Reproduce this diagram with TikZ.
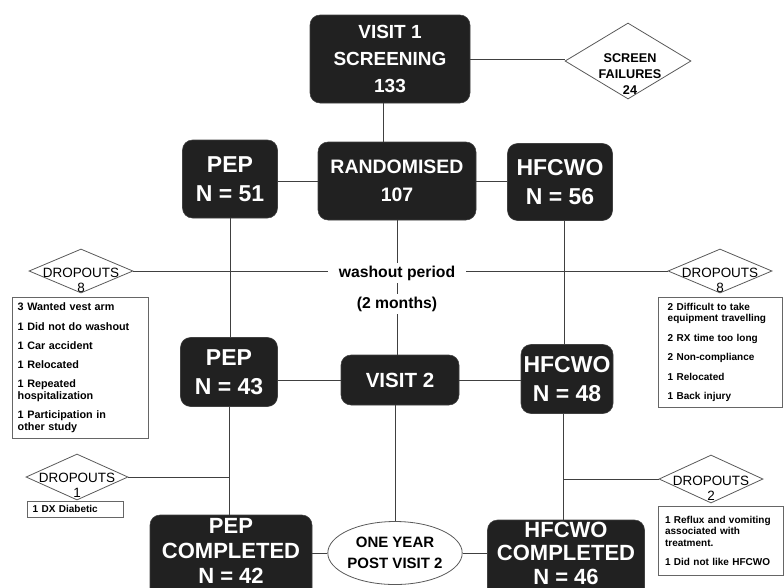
\documentclass[tikz,border=0pt]{standalone}
\usepackage{fontspec}
\setmainfont{Liberation Sans}
\usetikzlibrary{shapes.geometric,calc}
\begin{document}
\begin{tikzpicture}[x=0.75pt,y=-0.75pt,
  box/.style={rectangle, rounded corners=7.5pt, fill=black!87, draw=black!75, text=white, align=center, inner sep=0pt, font=\bfseries},
  btext/.style={text=white, align=center, inner sep=0pt},
  dia/.style={diamond, draw=black!65, line width=0.6pt, inner sep=0pt},
  dtext/.style={align=center, inner sep=0pt, font=\fontsize{10.1pt}{11.25pt}\selectfont},
  listbox/.style={rectangle, draw=black!60, line width=0.6pt, align=left, inner ysep=0pt, anchor=north west, font=\fontsize{7.5pt}{8.6pt}\selectfont\bfseries},
  conn/.style={draw=black!75, line width=0.7pt},
  wtext/.style={fill=white, inner xsep=8pt, inner ysep=2pt, font=\fontsize{11.8pt}{13pt}\selectfont\bfseries},
]
\useasboundingbox (0,0) rectangle (784,587);

% main boxes
\node[box, minimum width=160*0.75pt, minimum height=88*0.75pt, font=\fontsize{14.25pt}{20.25pt}\selectfont\bfseries] (v1) at (390,59) {VISIT 1\\SCREENING\\133};
\node[box, minimum width=95*0.75pt, minimum height=78*0.75pt, font=\fontsize{17.25pt}{21.75pt}\selectfont\bfseries] (pep51) at (230,179) {PEP\\N = 51};
\node[box, minimum width=158*0.75pt, minimum height=78*0.75pt, font=\fontsize{14.6pt}{21pt}\selectfont\bfseries] (rand) at (397,181) {RANDOMISED\\107};
\node[box, minimum width=105*0.75pt, minimum height=77*0.75pt, font=\fontsize{17.25pt}{21.75pt}\selectfont\bfseries] (hf56) at (560,182) {HFCWO\\N = 56};
\node[box, minimum width=97*0.75pt, minimum height=69*0.75pt, font=\fontsize{17.25pt}{21.75pt}\selectfont\bfseries] (pep43) at (229,372) {PEP\\N = 43};
\node[box, minimum width=118*0.75pt, minimum height=50*0.75pt, font=\fontsize{15.4pt}{18pt}\selectfont\bfseries] (v2) at (400,380) {VISIT 2};
\node[box, minimum width=92*0.75pt, minimum height=69*0.75pt, font=\fontsize{17.25pt}{21.75pt}\selectfont\bfseries] (hf48) at (567,379) {HFCWO\\N = 48};
\node[box, minimum width=162*0.75pt, minimum height=85*0.75pt] (pepc) at (231,557.5) {};
\node[btext, font=\fontsize{16.5pt}{18.75pt}\selectfont\bfseries] (pepct) at (231,551) {PEP\\COMPLETED\\N = 42};
\node[box, minimum width=157*0.75pt, minimum height=85*0.75pt] (hfc) at (566,562.5) {};
\node[btext, font=\fontsize{16.5pt}{17.6pt}\selectfont\bfseries] (hfct) at (566,553) {HFCWO\\COMPLETED\\N = 46};
\node[ellipse, draw=black!65, line width=0.6pt, minimum width=126*0.75pt, minimum height=63*0.75pt, inner sep=0pt, align=center, font=\fontsize{11.25pt}{15.75pt}\selectfont\bfseries] (ell) at (395,553) {ONE YEAR\\POST VISIT 2};

% diamonds
\node[dia, minimum width=126*0.75pt, minimum height=76*0.75pt] (sf) at (628,61) {};
\node[align=center, inner sep=0pt, font=\fontsize{9.5pt}{12pt}\selectfont\bfseries] (sft) at (630,74) {SCREEN\\FAILURES\\24};
\node[dia, minimum width=104*0.75pt, minimum height=44*0.75pt] (d8l) at (81,271) {};
\node[dtext] (d8lt) at (81,280.5) {DROPOUTS\\8};
\node[dia, minimum width=104*0.75pt, minimum height=44*0.75pt] (d8r) at (720,271) {};
\node[dtext] (d8rt) at (720,280) {DROPOUTS\\8};
\node[dia, minimum width=102*0.75pt, minimum height=46*0.75pt] (d1l) at (77,477) {};
\node[dtext] (d1lt) at (77,485.5) {DROPOUTS\\1};
\node[dia, minimum width=104*0.75pt, minimum height=48*0.75pt] (d2r) at (711,479) {};
\node[dtext] (d2rt) at (711,488) {DROPOUTS\\2};

% list boxes
\node[listbox, inner xsep=4pt, text width=94pt, minimum height=141*0.75pt, font=\fontsize{8.1pt}{8.8pt}\selectfont\bfseries] (lb) at (12,297)
 {3 Wanted vest arm\\[5.6pt]1 Did not do washout\\[5.6pt]1 Car accident\\[5.6pt]1 Relocated\\[5.6pt]1 Repeated\\hospitalization\\[5.6pt]1 Participation in\\other study};
\node[listbox, inner xsep=7pt, text width=79pt, minimum height=110*0.75pt] (rb) at (658,297)
 {2 Difficult to take\\equipment travelling\\[6pt]2 RX time too long\\[6pt]2 Non-compliance\\[6pt]1 Relocated\\[6pt]1 Back injury};
\node[listbox, inner xsep=4pt, text width=64pt, minimum height=16*0.75pt] (d1b) at (27,501) {1 DX Diabetic};
\node[listbox, inner xsep=5pt, text width=83.75pt, minimum height=69*0.75pt] (d2b) at (658,506)
 {1 Reflux and vomiting\\associated with\\treatment.\\[6pt]1 Did not like HFCWO};

% connectors
\coordinate (v1s) at ([xshift=-7*0.75pt]v1.south);
\coordinate (hf56s) at ([xshift=4*0.75pt]hf56.south);
\coordinate (hf48s) at ([xshift=-4*0.75pt]hf48.south);
\draw[conn] (v1.east) -- (v1.east -| sf.west);
\draw[conn] (v1s) -- (v1s |- rand.north);
\draw[conn] (rand.west) -- (rand.west -| pep51.east);
\draw[conn] (rand.east) -- (rand.east -| hf56.west);
\draw[conn] (pep51.south) -- (pep51.south |- pep43.north);
\draw[conn] (rand.south) -- (rand.south |- v2.north);
\draw[conn] (hf56s) -- (hf56s |- hf48.north);
\draw[conn] (v2.west) -- (v2.west -| pep43.east);
\draw[conn] (v2.east) -- (v2.east -| hf48.west);
\draw[conn] (pep43.south) -- (pep43.south |- pepc.north);
\draw[conn] (ell.north |- v2.south) -- (ell.north);
\draw[conn] (hf48s) -- (hf48s |- hfc.north);
\draw[conn] (pepc.east |- ell.west) -- (ell.west);
\draw[conn] (ell.east) -- (ell.east -| hfc.west);
\draw[conn] (d1l.east) -- (d1l.east -| pep43.south);
\draw[conn] (d2r.west) -- (d2r.west -| hf48s);

% washout labels over the central line
\node[wtext] (wash) at (397,273) {washout period};
\node[wtext] (months) at (397,304) {(2 months)};
\draw[conn] (d8l.east) -- (d8l.east -| wash.west);
\draw[conn] (wash.east |- d8r.west) -- (d8r.west);
\end{tikzpicture}
\end{document}
